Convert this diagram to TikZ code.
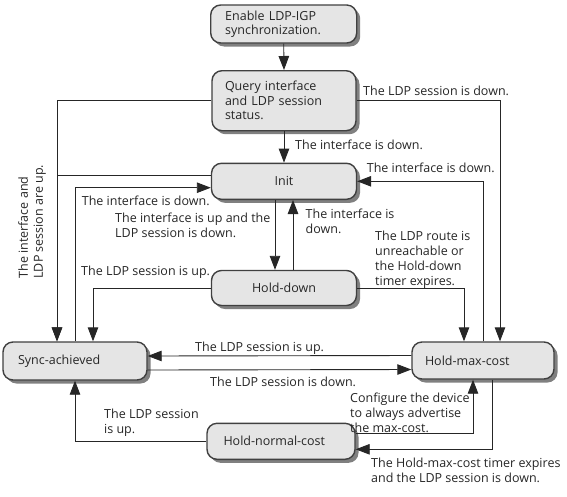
\documentclass[tikz,border=0pt]{standalone}
\usepackage{fontspec}
\setmainfont{Open Sans}
\usetikzlibrary{arrows.meta,shadows}

\tikzset{
  state/.style={draw=black!75, line width=1.4pt, fill=black!10, rounded corners=10pt,
    minimum width=145pt, minimum height=36pt, inner sep=2pt, text=black!85,
    drop shadow={shadow xshift=3.5pt, shadow yshift=-3.5pt, fill=black!50, opacity=1},
    font=\fontsize{12.5}{14.5}\selectfont},
  flow/.style={line width=0.9pt, draw=black!85, -{Triangle[length=14pt,width=10.5pt]}},
  note/.style={font=\fontsize{12.5}{15}\selectfont, align=left, inner sep=0pt, anchor=north west, text=black!85},
}

\begin{document}
\begin{tikzpicture}[x=1pt,y=-1pt]
	\useasboundingbox (0,0) rectangle (567,496);

	% states
	\node[state, minimum width=146pt, minimum height=38pt, text width=117pt, align=left] (enable) at (283.7,24) {Enable LDP-IGP\\synchronization.};
	\node[state, minimum width=144pt, minimum height=60pt, text width=118pt, align=left] (query) at (284,100.7) {Query interface\\and LDP session\\status.};
	\node[state] (init) at (284,181.3) {Init};
	\node[state, minimum height=35pt] (holddown) at (284,288) {Hold-down};
	\node[state, minimum width=144pt, minimum height=38pt, text width=114pt, align=left] (sync) at (75,361) {Sync-achieved};
	\node[state, minimum width=142pt, minimum height=37pt, text width=116pt, align=left] (maxcost) at (483,360.5) {Hold-max-cost};
	\node[state, minimum width=148pt, text width=115pt, align=left] (normal) at (281,441.3) {Hold-normal-cost};

	% transitions
	\draw[flow] (enable.south) -- (query.north);
	\draw[flow] (query.south) -- (init.north);
	\draw[flow] ([xshift=-9pt]init.south) -- ([xshift=-9pt]holddown.north);
	\draw[flow] ([xshift=9pt]holddown.north) -- ([xshift=9pt]init.south);
	\draw[flow] (query.west) -| ([xshift=-18pt]sync.north);
	\draw[flow] ([yshift=6.3pt]init.west) -| ([xshift=-18pt]sync.north);
	\draw[flow] (sync.north) |- ([yshift=-6.4pt]init.west);
	\draw[flow] (holddown.west) -| ([xshift=18pt]sync.north);
	\draw[flow] (holddown.east) -| ([xshift=-19pt]maxcost.north);
	\draw[flow] (query.east) -| ([xshift=17pt]maxcost.north);
	\draw[flow] (maxcost.north) |- (init.east);
	\draw[flow] ([yshift=5pt]maxcost.west) -- ([yshift=5pt]sync.east);
	\draw[flow] ([yshift=-9pt]sync.east) -- ([yshift=-9pt]maxcost.west);
	\draw[flow] ([yshift=8pt]normal.east) -| ([xshift=-10pt]maxcost.south);
	\draw[flow] ([xshift=9pt]maxcost.south) |- ([yshift=-8pt]normal.east);
	\draw[flow] (normal.west) -| (sync.south);

	% conditions
	\node[note] (l1) at (363,86) {The LDP session is down.};
	\node[note] (l2) at (295,140) {The interface is down.};
	\node[note] (l3) at (366.7,163) {The interface is down.};
	\node[note] (l4) at (81.7,196) {The interface is down.};
	\node[note] (l5) at (115,213) {The interface is up and the\\LDP session is down.};
	\node[note] (l6) at (305.5,209) {The interface is\\down.};
	\node[note] (l7) at (375,231) {The LDP route is\\unreachable or\\the Hold-down\\timer expires.};
	\node[note] (l8) at (81,266) {The LDP session is up.};
	\node[note, anchor=center, rotate=90] (l9) at (32,221.7) {The interface and\\LDP session are up.};
	\node[note] (l10) at (195,342) {The LDP session is up.};
	\node[note] (l11) at (210,377) {The LDP session is down.};
	\node[note] (l12) at (350,393) {Configure the device\\to always advertise\\the max-cost.};
	\node[note] (l13) at (104,409) {The LDP session\\is up.};
	\node[note] (l14) at (371,458) {The Hold-max-cost timer expires\\and the LDP session is down.};

\end{tikzpicture}
\end{document}
